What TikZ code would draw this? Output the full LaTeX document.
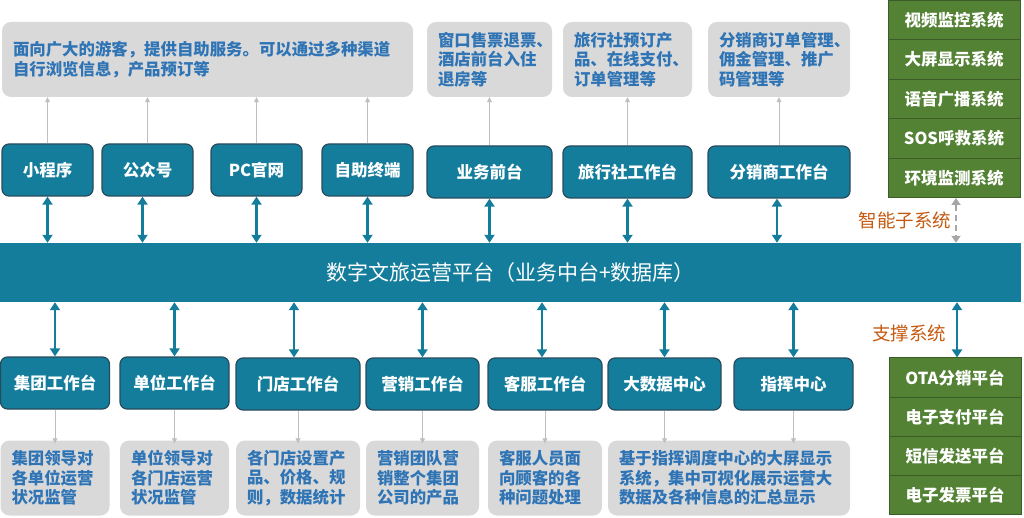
\documentclass[tikz,border=0pt]{standalone}
\usepackage{fontspec}
\setmainfont{Noto Sans CJK SC}
\usepackage{tikz}
\usepackage{xcolor}
\usetikzlibrary{arrows.meta}

\definecolor{tealbox}{HTML}{157D9C}
\definecolor{tealline}{HTML}{284B5C}
\definecolor{descgray}{HTML}{D9D9D9}
\definecolor{desctext}{HTML}{2F74B5}
\definecolor{greenbox}{HTML}{548235}
\definecolor{greenline}{HTML}{3B5B27}
\definecolor{labelorange}{HTML}{C55A11}
\definecolor{arrowgray}{HTML}{BFBFBF}
\definecolor{dashgray}{HTML}{A6A6A6}

\tikzset{
  workbox/.style={draw=tealline, fill=tealbox, line width=1.2pt, rounded corners=7pt,
    text=white, font=\fontsize{16.5}{20}\selectfont\bfseries,
    minimum height=52pt, inner sep=0pt},
  descbox/.style={fill=descgray, rounded corners=9pt, text=desctext,
    font=\fontsize{16.4}{19.5}\selectfont\bfseries, align=left,
    minimum height=75pt, inner xsep=11pt, inner ysep=0pt},
  subbox/.style={draw=greenline, fill=greenbox, line width=1pt, text=white,
    font=\fontsize{16.5}{20}\selectfont\bfseries, minimum width=132pt, inner sep=0pt},
  platform/.style={fill=tealbox, text=white, font=\fontsize{21}{24}\selectfont,
    minimum width=1021pt, minimum height=59pt, inner sep=0pt},
  biarrow/.style={{Triangle[width=10pt,length=8pt]}-{Triangle[width=10pt,length=8pt]},
    tealbox, line width=2.5pt},
  dasharrow/.style={{Triangle[width=9pt,length=7pt]}-{Triangle[width=9pt,length=7pt]},
    dashgray, line width=2.5pt, dash pattern=on 6pt off 4pt},
  thinarrow/.style={-{Triangle[width=5pt,length=5pt]}, arrowgray, line width=0.8pt},
  sublabel/.style={text=labelorange, font=\fontsize{18.5}{20}\selectfont},
}

\begin{document}
\begin{tikzpicture}[x=1pt,y=-1pt]
    \useasboundingbox (0,0) rectangle (1024,518);

    \node[descbox, minimum width=411pt, text width=389pt] (dA) at (207.5,59.5) {面向广大的游客，提供自助服务。可以通过多种渠道\\自行浏览信息，产品预订等};
    \node[descbox, minimum width=125pt, text width=103pt] (dB) at (489.5,59.5) {窗口售票退票、\\酒店前台入住\\退房等};
    \node[descbox, minimum width=129pt, text width=107pt] (dC) at (627.5,59.5) {旅行社预订产\\品、在线支付、\\订单管理等};
    \node[descbox, minimum width=142pt, text width=120pt] (dD) at (779,59.5) {分销商订单管理、\\佣金管理、推广\\码管理等};

    \node[workbox, minimum width=91pt] (xcx) at (47.5,170) {小程序};
    \node[workbox, minimum width=91pt] (gzh) at (147.5,170) {公众号};
    \node[workbox, minimum width=91pt] (pcgw) at (256.5,170) {PC官网};
    \node[workbox, minimum width=91pt] (zzzd) at (367.5,170) {自助终端};
    \node[workbox, minimum width=125pt] (ywqt) at (489.5,172) {业务前台};
    \node[workbox, minimum width=129pt] (lxs) at (627.5,172) {旅行社工作台};
    \node[workbox, minimum width=142pt] (fxs) at (779,172) {分销商工作台};

    \node[platform] (pt) at (510.5,272.5) {数字文旅运营平台（业务中台+数据库）};

    \node[workbox, minimum width=109pt] (jt) at (55,383) {集团工作台};
    \node[workbox, minimum width=109pt] (dw) at (174.5,383) {单位工作台};
    \node[workbox, minimum width=124pt] (md) at (298,384) {门店工作台};
    \node[workbox, minimum width=113pt] (yx) at (422.5,384) {营销工作台};
    \node[workbox, minimum width=114pt] (kf) at (545,384) {客服工作台};
    \node[workbox, minimum width=113pt] (dsj) at (664.5,384) {大数据中心};
    \node[workbox, minimum width=119pt] (zhzx) at (793.5,384) {指挥中心};

    \node[descbox, minimum width=109pt, text width=87pt] (djt) at (55,478) {集团领导对\\各单位运营\\状况监管};
    \node[descbox, minimum width=109pt, text width=87pt] (ddw) at (174.5,478) {单位领导对\\各门店运营\\状况监管};
    \node[descbox, minimum width=124pt, text width=102pt] (dmd) at (298,478) {各门店设置产\\品、价格、规\\则，数据统计};
    \node[descbox, minimum width=113pt, text width=91pt] (dyx) at (422.5,478) {营销团队营\\销整个集团\\公司的产品};
    \node[descbox, minimum width=114pt, text width=92pt] (dkf) at (545,478) {客服人员面\\向顾客的各\\种问题处理};
    \node[descbox, minimum width=242pt, text width=220pt] (ddsj) at (729,478) {基于指挥调度中心的大屏显示\\系统，集中可视化展示运营大\\数据及各种信息的汇总显示};

    \foreach \t [count=\i] in {视频监控系统,大屏显示系统,语音广播系统,SOS呼救系统,环境监测系统}
        \node[subbox, minimum height=39.4pt] (g\i) at (954,{0.5+19.7+39.4*(\i-1)}) {\t};
    \foreach \t [count=\i] in {OTA分销平台,电子支付平台,短信发送平台,电子发票平台}
        \node[subbox, minimum height=39.25pt] (o\i) at (955,{358+19.6+39.25*(\i-1)}) {\t};

    \draw[thinarrow] (xcx.north) -- (xcx.north |- dA.south);
    \draw[thinarrow] (gzh.north) -- (gzh.north |- dA.south);
    \draw[thinarrow] (pcgw.north) -- (pcgw.north |- dA.south);
    \draw[thinarrow] (zzzd.north) -- (zzzd.north |- dA.south);
    \draw[thinarrow] (ywqt.north) -- (dB.south);
    \draw[thinarrow] (lxs.north) -- (dC.south);
    \draw[thinarrow] (fxs.north) -- (dD.south);

    \draw[biarrow] (xcx.south) -- (xcx.south |- pt.north);
    \draw[biarrow] ([xshift=-5pt]gzh.south) -- ([xshift=-5pt]gzh.south |- pt.north);
    \draw[biarrow] (pcgw.south) -- (pcgw.south |- pt.north);
    \draw[biarrow] (zzzd.south) -- (zzzd.south |- pt.north);
    \draw[biarrow] (ywqt.south) -- (ywqt.south |- pt.north);
    \draw[biarrow] (lxs.south) -- (lxs.south |- pt.north);
    \draw[biarrow] ([xshift=-2pt]fxs.south) -- ([xshift=-2pt]fxs.south |- pt.north);

    \draw[biarrow] (jt.north |- pt.south) -- (jt.north);
    \draw[biarrow] (dw.north |- pt.south) -- (dw.north);
    \draw[biarrow] ([xshift=-4pt]md.north |- pt.south) -- ([xshift=-4pt]md.north);
    \draw[biarrow] (yx.north |- pt.south) -- (yx.north);
    \draw[biarrow] ([xshift=-3pt]kf.north |- pt.south) -- ([xshift=-3pt]kf.north);
    \draw[biarrow] (dsj.north |- pt.south) -- (dsj.north);
    \draw[biarrow] (zhzx.north |- pt.south) -- (zhzx.north);

    \draw[thinarrow] (jt.south) -- ([yshift=-3pt]djt.north);
    \draw[thinarrow] (dw.south) -- ([yshift=-3pt]ddw.north);
    \draw[thinarrow] (md.south) -- ([yshift=-3pt]dmd.north);
    \draw[thinarrow] (yx.south) -- ([yshift=-3pt]dyx.north);
    \draw[thinarrow] (kf.south) -- ([yshift=-3pt]dkf.north);
    \draw[thinarrow] (dsj.south) -- ([yshift=-3pt]dsj.south |- ddsj.north);
    \draw[thinarrow] (zhzx.south) -- ([yshift=-3pt]zhzx.south |- ddsj.north);

    \draw[dasharrow] ([xshift=2pt]g5.south) -- ([xshift=2pt]g5.south |- pt.north) node[midway,left,sublabel] {智能子系统};
    \draw[biarrow] ([xshift=2pt]o1.north |- pt.south) -- ([xshift=2pt]o1.north) node[midway,left=6pt,yshift=-4pt,sublabel] {支撑系统};
  \end{tikzpicture}
\end{document}
